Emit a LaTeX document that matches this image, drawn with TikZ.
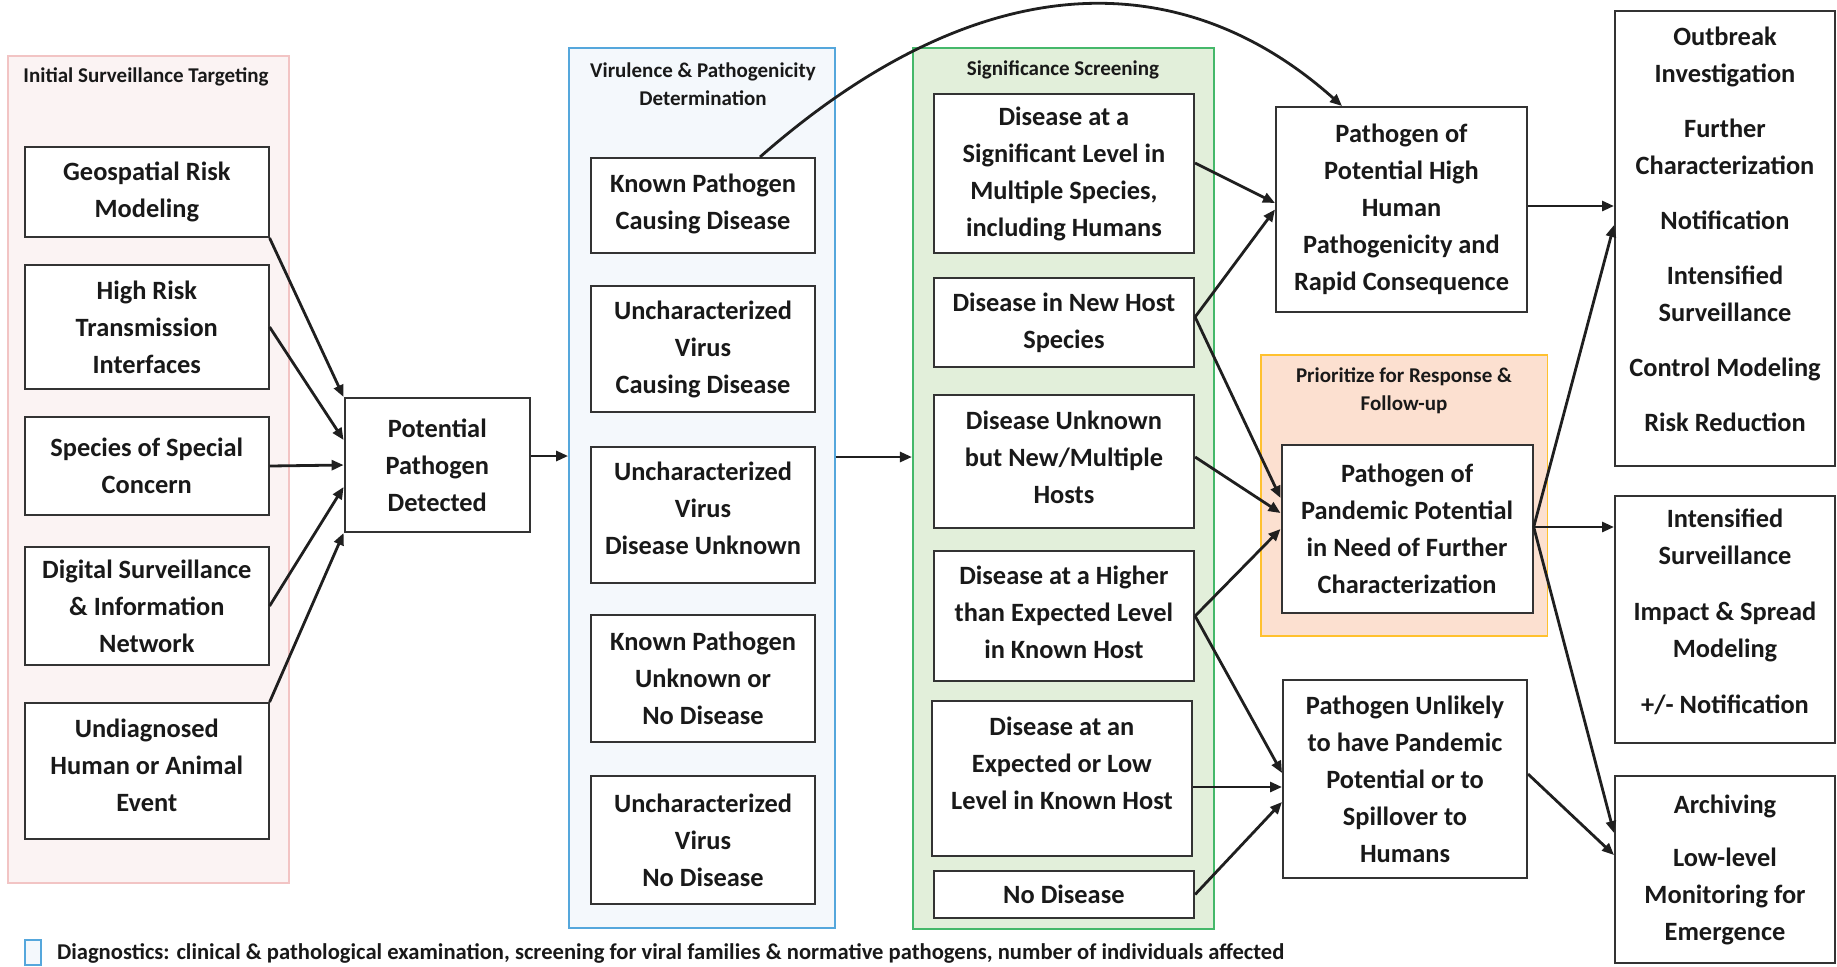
\documentclass[tikz,border=0pt]{standalone}
\usepackage{fontspec}
\setmainfont{Carlito}
\usetikzlibrary{arrows.meta,calc}
\definecolor{pinkf}{HTML}{FBF3F3}
\definecolor{pinkb}{HTML}{F2C4C4}
\definecolor{bluef}{HTML}{F4F8FC}
\definecolor{blueb}{HTML}{55A7DC}
\definecolor{greenf}{HTML}{E2EFDA}
\definecolor{greenb}{HTML}{45B86A}
\definecolor{orangef}{HTML}{FCE0D0}
\definecolor{orangeb}{HTML}{FFC12E}
\definecolor{boxgray}{HTML}{333333}
\begin{document}
\begin{tikzpicture}[x=0.5pt,y=-0.5pt,
  box/.style={draw=boxgray,line width=1pt,fill=white,align=center,inner sep=0pt,text=black!90,
    font=\bfseries\fontsize{13.2}{18.5}\selectfont},
  grp/.style={line width=0.9pt,inner sep=0pt},
  ttl/.style={align=center,text=black!90,font=\bfseries\fontsize{10.5}{14}\selectfont},
  arr/.style={line width=1.4pt,draw=black!88,-{Triangle[length=6pt,width=5pt]}},
]
\useasboundingbox (0,0) rectangle (1837,966);

% groups
\node[grp,draw=pinkb,fill=pinkf,minimum width=140.55pt,minimum height=413.5pt] (pinkgrp) at (148.45,469.5) {};
\node[grp,draw=blueb,fill=bluef,minimum width=132.8pt,minimum height=440pt] (bluegrp) at (701.8,488) {};
\node[grp,draw=greenb,fill=greenf,minimum width=150.6pt,minimum height=440.5pt] (greengrp) at (1063.4,488.5) {};
\node[grp,draw=orangeb,fill=orangef,minimum width=143.2pt,minimum height=140.5pt] (orangegrp) at (1404.2,495.5) {};

% titles
\node[ttl] (t1) at (146,77) {Initial Surveillance Targeting};
\node[ttl] (t2) at (703,84) {Virulence \& Pathogenicity\\Determination};
\node[ttl] (t3) at (1063,70) {Significance Screening};
\node[ttl] (t4) at (1404,391) {Prioritize for Response \&\\Follow-up};

% left column
\node[box,minimum width=121.8pt,minimum height=45pt] (geo) at (146.8,192) {Geospatial Risk\\Modeling};
\node[box,minimum width=121.8pt,minimum height=62pt] (high) at (146.8,327) {High Risk\\Transmission\\Interfaces};
\node[box,minimum width=121.8pt,minimum height=49pt] (spec) at (146.8,466) {Species of Special\\Concern};
\node[box,minimum width=121.8pt,minimum height=59pt] (digi) at (146.8,606) {Digital Surveillance\\\& Information\\Network};
\node[box,minimum width=121.8pt,minimum height=68pt] (und) at (146.8,771) {Undiagnosed\\Human or Animal\\Event\\[-13pt]\mbox{}};

\node[box,minimum width=92.7pt,minimum height=67pt] (pot) at (437.3,465) {Potential\\Pathogen\\Detected};

% blue column
\node[box,minimum width=112pt,minimum height=47.5pt] (kp1) at (703,205.5) {Known Pathogen\\Causing Disease\\[-15pt]\mbox{}};
\node[box,minimum width=112pt,minimum height=63pt] (uv1) at (703,349) {Uncharacterized\\Virus\\Causing Disease};
\node[box,minimum width=112pt,minimum height=68pt] (uv2) at (703,515) {Uncharacterized\\Virus\\Disease Unknown\\[-11.7pt]\mbox{}};
\node[box,minimum width=112pt,minimum height=63.5pt] (kp2) at (703,678.5) {Known Pathogen\\Unknown or\\No Disease};
\node[box,minimum width=112pt,minimum height=64pt] (uv3) at (703,840) {Uncharacterized\\Virus\\No Disease};

% green column
\node[box,minimum width=130.2pt,minimum height=79.5pt] (g1) at (1063.9,173.5) {Disease at a\\Significant Level in\\Multiple Species,\\including Humans};
\node[box,minimum width=130.2pt,minimum height=44.5pt] (g2) at (1063.9,322.5) {Disease in New Host\\Species};
\node[box,minimum width=130.2pt,minimum height=66.5pt] (g3) at (1063.9,461.5) {Disease Unknown\\but New/Multiple\\Hosts\\[-13.8pt]\mbox{}};
\node[box,minimum width=130.2pt,minimum height=65pt] (g4) at (1063.9,616) {Disease at a Higher\\than Expected Level\\in Known Host\\[-14.5pt]\mbox{}};
\node[box,minimum width=129.9pt,minimum height=77.5pt] (g5) at (1061.9,778.5) {Disease at an\\Expected or Low\\Level in Known Host\\[-3.7pt]\mbox{}};
\node[box,minimum width=130.2pt,minimum height=23.5pt] (g6) at (1063.9,894.5) {No Disease};

% middle-right
\node[box,minimum width=125.5pt,minimum height=102.5pt] (ph) at (1401.5,209.5) {Pathogen of\\Potential High\\Human\\Pathogenicity and\\Rapid Consequence};
\node[box,minimum width=125.6pt,minimum height=84pt] (pand) at (1407.1,529) {Pathogen of\\Pandemic Potential\\in Need of Further\\Characterization};
\node[box,minimum width=122pt,minimum height=99pt] (unl) at (1405,779) {Pathogen Unlikely\\to have Pandemic\\Potential or to\\Spillover to\\Humans};

% right column
\node[box,minimum width=110pt,minimum height=227.5pt] (out) at (1725,238.5) {Outbreak\\Investigation\\[9pt]Further\\Characterization\\[9pt]Notification\\[9pt]Intensified\\Surveillance\\[9pt]Control Modeling\\[9pt]Risk Reduction\\[-9.5pt]\mbox{}};
\node[box,minimum width=110pt,minimum height=123.5pt] (ints) at (1725,619.5) {Intensified\\Surveillance\\[9.5pt]Impact \& Spread\\Modeling\\[9.5pt]+/- Notification\\[-10.5pt]\mbox{}};
\node[box,minimum width=110pt,minimum height=93.5pt] (arch) at (1725,869.5) {Archiving\\[8pt]Low-level\\Monitoring for\\Emergence};

% legend
\node[draw=blueb,fill=bluef,line width=1pt,minimum width=8pt,minimum height=12.5pt,inner sep=0pt] (legbox) at (33,952.5) {};
\node[anchor=west,text=black!90,font=\bfseries\fontsize{11.3}{13}\selectfont] (legtext) at (50,953) {Diagnostics: clinical \& pathological examination, screening for viral families \& normative pathogens, number of individuals affected};

% connectors: left to potential
\draw[arr] (geo.south east) -- (pot.north west);
\draw[arr] (high.east) -- ([yshift=12.5pt]pot.west);
\draw[arr] (spec.east) -- (pot.west);
\draw[arr] (digi.east) -- ([yshift=-11pt]pot.west);
\draw[arr] (und.north east) -- (pot.south west);

% potential to blue group, blue group to green group
\coordinate (pa) at ([yshift=4.5pt]pot.east);
\draw[arr] (pa) -- (pa -| bluegrp.west);
\coordinate (pb) at ([yshift=15.5pt]bluegrp.east);
\draw[arr] (pb) -- (pb -| greengrp.west);

% curve
\draw[arr] ([xshift=28.5pt]kp1.north) .. controls (990,-45) and (1190,-30) .. ([xshift=-29.75pt]ph.north);

% green to right
\draw[arr] ([yshift=5.25pt]g1.east) -- ([yshift=3.25pt]ph.west);
\draw[arr] ([yshift=2.75pt]g2.east) -- (ph.west);
\draw[arr] ([yshift=2.75pt]g2.east) -- ([yshift=15.5pt]pand.west);
\draw[arr] ([yshift=2.25pt]g3.east) -- ([yshift=8pt]pand.west);
\draw[arr] (g4.east) -- (pand.west);
\draw[arr] (g4.east) -- ([yshift=3pt]unl.west);
\draw[arr] ([yshift=-4.25pt]g5.east) -- ([yshift=-4pt]unl.west);
\draw[arr] (g6.east) -- ([yshift=-11.5pt]unl.west);

% to right column
\draw[arr] ([yshift=1.75pt]ph.east) -- ([yshift=16.25pt]out.west);
\draw[arr] ([yshift=1pt]pand.east) -- ([yshift=6.75pt]out.west);
\draw[arr] ([yshift=1pt]pand.east) -- ([yshift=46.25pt]ints.west);
\draw[arr] ([yshift=1pt]pand.east) -- ([yshift=18.25pt]arch.west);
\draw[arr] ([yshift=2.5pt]unl.east) -- ([yshift=7.25pt]arch.west);
\end{tikzpicture}
\end{document}
